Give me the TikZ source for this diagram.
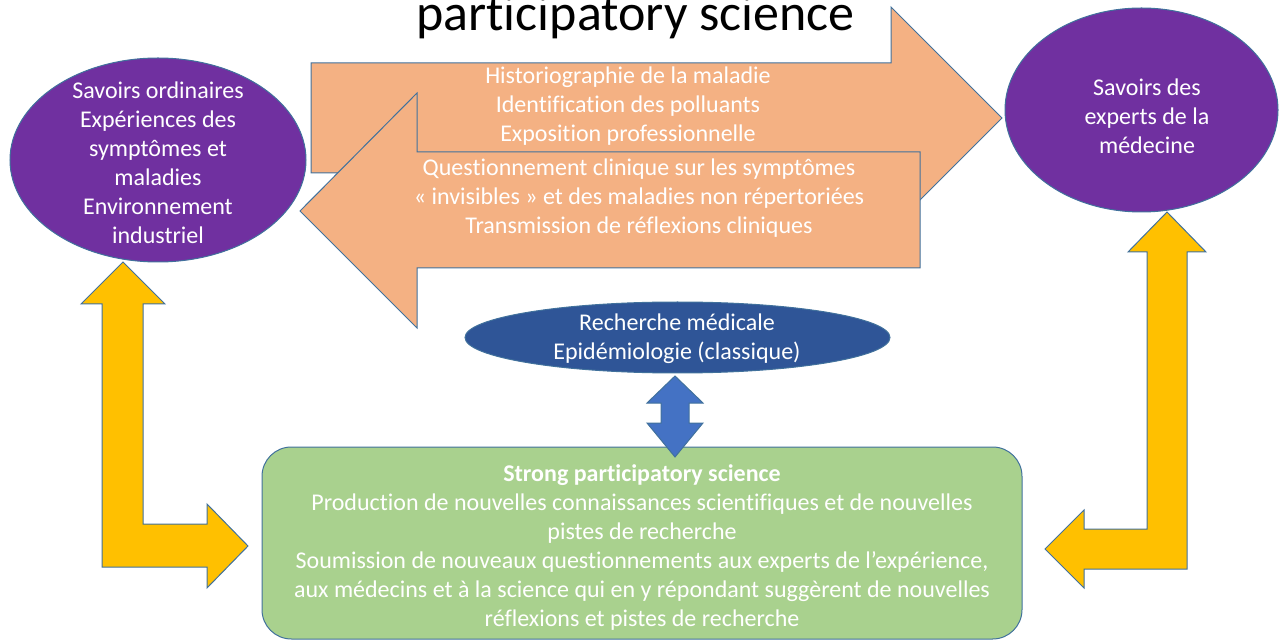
\documentclass[tikz,border=0pt]{standalone}
\usepackage{fontspec}
\setmainfont{Carlito}[RawFeature={-liga;-clig;-calt;-dlig}]
\usetikzlibrary{shapes.geometric}
\definecolor{orangeA}{HTML}{F4B183}
\definecolor{purpleA}{HTML}{7030A0}
\definecolor{navyA}{HTML}{2F5597}
\definecolor{blueA}{HTML}{4472C4}
\definecolor{greenA}{HTML}{A9D18E}
\definecolor{yellowA}{HTML}{FFC000}
\definecolor{edgeA}{HTML}{41719C}
\tikzset{
  shapeedge/.style={draw=edgeA, line width=0.75pt, line join=miter},
  txt/.style={text=white, align=center, inner sep=0pt, font=\fontsize{18}{21.75}\selectfont},
  ovalnode/.style={ellipse, shapeedge, inner sep=0pt},
}
\begin{document}
\begin{tikzpicture}[x=0.75pt,y=-0.75pt]
\useasboundingbox (0,0) rectangle (1281,641);

% title
\node[anchor=base, inner sep=0pt, font=\fontsize{39}{45}\selectfont, text=black] (title) at (635.5,31) {participatory science};

% right-pointing orange arrow
\draw[shapeedge, fill=orangeA] (311,63) -- (891,63) -- (891,7) -- (1002,118) -- (891,229) -- (891,173) -- (311,173) -- cycle;
% left-pointing orange arrow
\draw[shapeedge, fill=orangeA] (920,152) -- (417,152) -- (417,93) -- (300,211) -- (417,328) -- (417,268) -- (920,268) -- cycle;

\node[txt] (toptxt) at (628,106) {Historiographie de la maladie\\Identification des polluants\\Exposition professionnelle};
\node[txt] (bottxt) at (639,198) {Questionnement clinique sur les symptômes\\« invisibles » et des maladies non répertoriées\\Transmission de réflexions cliniques};

% ellipses
\node[ovalnode, fill=purpleA, minimum width=222pt, minimum height=153pt] (L) at (158,160) {};
\node[txt] (Ltxt) at (158,162.5) {Savoirs ordinaires\\Expériences des\\symptômes et\\maladies\\Environnement\\industriel};

\node[ovalnode, fill=purpleA, minimum width=204.75pt, minimum height=153pt] (R) at (1141.5,110) {};
\node[txt] (Rtxt) at (1147,116) {Savoirs des\\experts de la\\médecine};

\node[ovalnode, fill=navyA, minimum width=318.75pt, minimum height=53.25pt] (B) at (677.5,337.5) {};
\node[txt] (Btxt) at (677,339) {Recherche médicale\\Epidémiologie (classique)};

% yellow bent arrows
\draw[shapeedge, fill=yellowA] (123,262) -- (165,304) -- (143,304) -- (143,524) -- (207,524) -- (207,504) -- (248,546) -- (207,588) -- (207,567) -- (102,567) -- (102,304) -- (81,304) -- cycle;
\draw[shapeedge, fill=yellowA] (1167,212) -- (1206,252) -- (1187,252) -- (1187,569) -- (1084,569) -- (1084,588) -- (1045,549) -- (1084,510) -- (1084,529) -- (1147,529) -- (1147,252) -- (1128,252) -- cycle;

% green box
\node[shapeedge, fill=greenA, rectangle, rounded corners=22pt, minimum width=570pt, minimum height=144pt, inner sep=0pt] (G) at (642,543) {};
\node[txt] (Gtxt) at (642,548) {\textbf{Strong participatory science}\\Production de nouvelles connaissances scientifiques et de nouvelles\\pistes de recherche\\Soumission de nouveaux questionnements aux experts de l’expérience,\\aux médecins et à la science qui en y répondant suggèrent de nouvelles\\réflexions et pistes de recherche};

% blue double arrow
\draw[shapeedge, fill=blueA] (675,376) -- (703,403) -- (689,403) -- (689,423) -- (703,423) -- (675,457) -- (647,423) -- (661,423) -- (661,403) -- (647,403) -- cycle;
\end{tikzpicture}
\end{document}
